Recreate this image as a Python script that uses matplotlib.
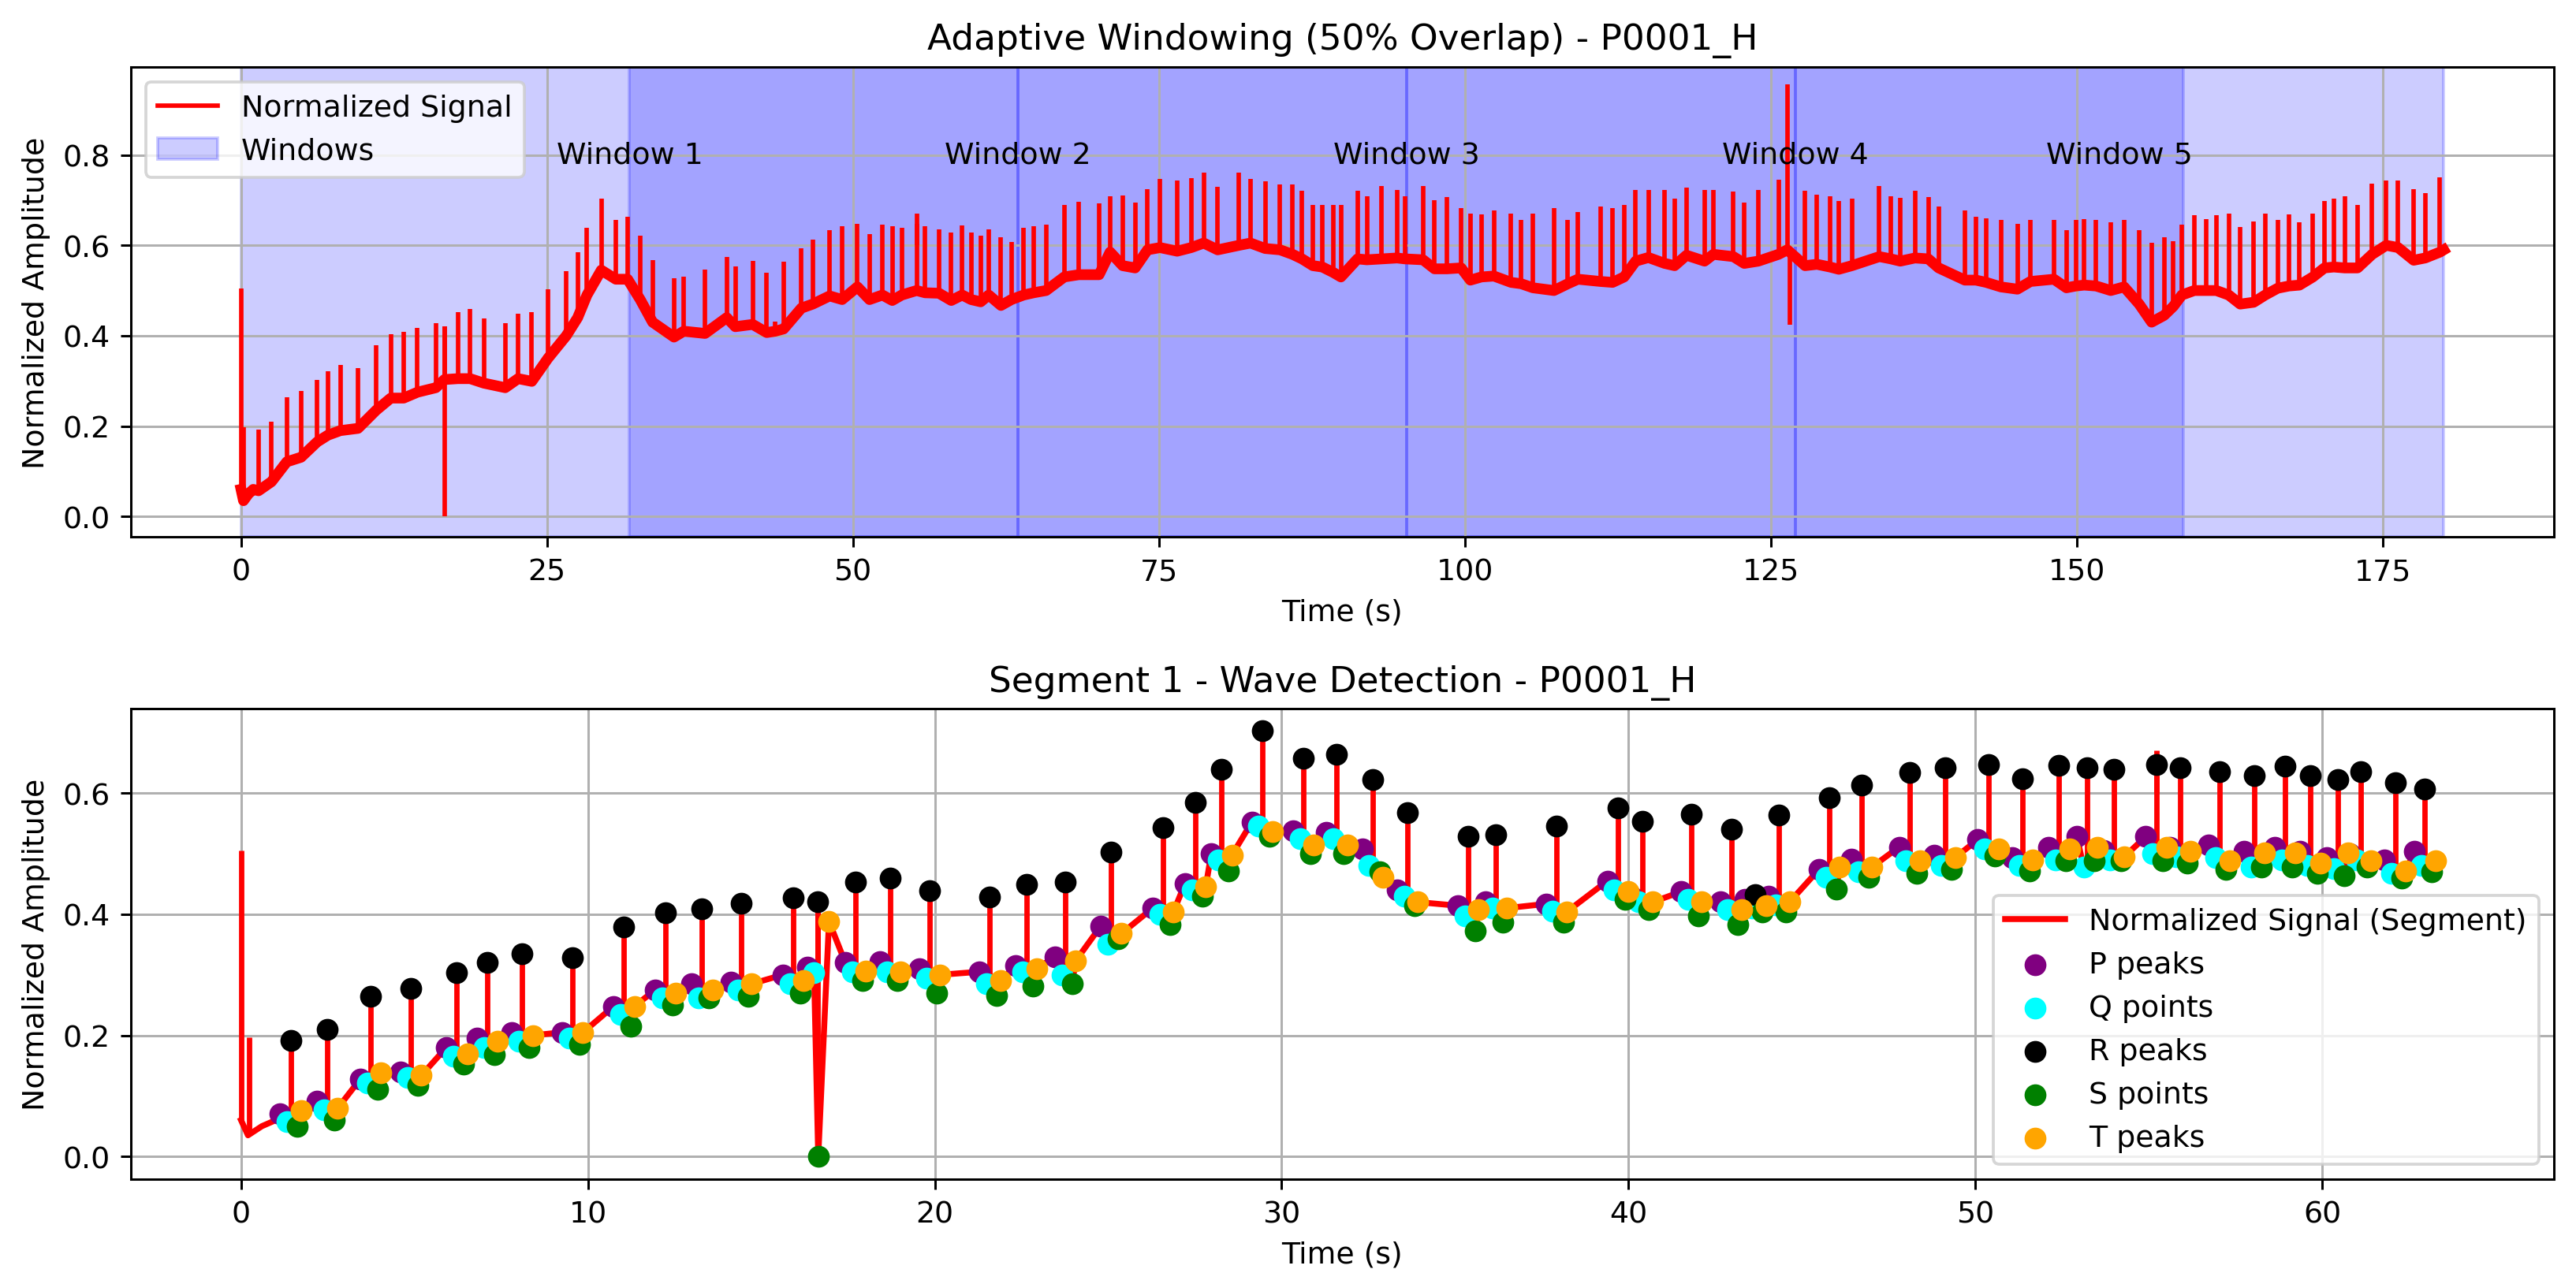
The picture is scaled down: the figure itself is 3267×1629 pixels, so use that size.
import numpy as np
import matplotlib.pyplot as plt
from matplotlib.lines import Line2D

# ---- Segment 1 (0 - 63.5 s): detected wave points ----
r_t = [1.43, 2.49, 3.74, 4.90, 6.22, 7.10, 8.11, 9.56, 11.04, 12.24,
       13.29, 14.42, 15.92, 16.62, 17.72, 18.72, 19.85, 21.59, 22.64, 23.76,
       25.08, 26.58, 27.51, 28.27, 29.44, 30.63, 31.59, 32.62, 33.63, 35.38,
       36.18, 37.92, 39.69, 40.39, 41.81, 42.96, 43.66, 44.34, 45.79, 46.72,
       48.10, 49.12, 50.37, 51.36, 52.41, 53.22, 53.99, 55.21, 55.90, 57.03,
       58.04, 58.93, 59.66, 60.44, 61.10, 62.10, 62.96]
r_amp = [.192, .210, .264, .277, .303, .321, .335, .328, .379, .403,
         .409, .418, .427, .421, .453, .460, .439, .428, .449, .453,
         .502, .543, .585, .639, .703, .657, .664, .622, .568, .528,
         .531, .546, .575, .554, .565, .540, .432, .564, .593, .613,
         .634, .642, .647, .624, .646, .642, .639, .647, .642, .635,
         .629, .644, .629, .622, .635, .617, .607]

p_t = [1.13, 2.19, 3.44, 4.60, 5.92, 6.80, 7.81, 9.26, 10.74, 11.94,
       12.99, 14.12, 15.62, 16.32, 17.42, 18.42, 19.55, 21.29, 22.34, 23.46,
       24.78, 26.28, 27.21, 27.97, 29.14, 30.33, 31.29, 32.32, 33.33, 35.08,
       35.88, 37.62, 39.39, 40.09, 41.51, 42.66, 43.36, 44.04, 45.49, 46.42,
       47.80, 48.82, 50.07, 51.06, 52.11, 52.92, 53.69, 54.91, 55.60, 56.73,
       57.74, 58.63, 59.36, 60.14, 60.80, 61.80, 62.66]
p_amp = [.070, .091, .128, .140, .180, .195, .205, .205, .248, .275,
         .285, .288, .300, .313, .320, .322, .310, .305, .315, .330,
         .380, .410, .450, .500, .552, .538, .535, .508, .440, .414,
         .420, .417, .455, .430, .437, .420, .425, .430, .474, .491,
         .511, .498, .523, .494, .511, .529, .505, .528, .510, .514,
         .504, .511, .504, .494, .500, .490, .504]

q_t = [1.33, 2.39, 3.64, 4.80, 6.12, 7.00, 8.01, 9.46, 10.94, 12.14,
       13.19, 14.32, 15.82, 16.52, 17.62, 18.62, 19.75, 21.49, 22.54, 23.66,
       24.98, 26.48, 27.41, 28.17, 29.34, 30.53, 31.49, 32.52, 33.53, 35.28,
       36.08, 37.82, 39.59, 40.29, 41.71, 42.86, 43.56, 44.24, 45.69, 46.62,
       48.00, 49.02, 50.27, 51.26, 52.31, 53.12, 53.89, 55.11, 55.80, 56.93,
       57.94, 58.83, 59.56, 60.34, 61.00, 62.00, 62.86]
q_amp = [.057, .077, .121, .131, .165, .180, .190, .195, .235, .262,
         .262, .275, .285, .303, .305, .305, .295, .285, .305, .299,
         .350, .400, .440, .490, .545, .525, .525, .480, .430, .397,
         .410, .405, .440, .420, .425, .407, .410, .415, .461, .470,
         .488, .480, .508, .480, .490, .478, .490, .500, .495, .494,
         .478, .490, .480, .475, .490, .467, .480]

s_t = [1.63, 2.69, 3.94, 5.10, 6.42, 7.30, 8.31, 9.76, 11.24, 12.44,
       13.49, 14.62, 16.12, 16.64, 17.92, 18.92, 20.05, 21.79, 22.84, 23.96,
       25.28, 26.78, 27.71, 28.47, 29.64, 30.83, 31.79, 32.82, 33.83, 35.58,
       36.38, 38.12, 39.89, 40.59, 42.01, 43.16, 43.86, 44.54, 45.99, 46.92,
       48.30, 49.32, 50.57, 51.56, 52.61, 53.42, 54.19, 55.41, 56.10, 57.23,
       58.24, 59.13, 59.86, 60.64, 61.30, 62.30, 63.16]
s_amp = [.050, .060, .111, .118, .152, .168, .180, .185, .215, .250,
         .262, .265, .270, .000, .290, .290, .270, .266, .282, .285,
         .360, .383, .430, .471, .528, .500, .500, .470, .414, .373,
         .387, .387, .424, .407, .397, .383, .404, .404, .442, .461,
         .468, .474, .496, .471, .488, .488, .488, .488, .484, .474,
         .478, .478, .467, .464, .478, .460, .470]

tw_t = [1.73, 2.79, 4.04, 5.20, 6.52, 7.40, 8.41, 9.86, 11.34, 12.54,
        13.59, 14.72, 16.22, 16.95, 18.02, 19.02, 20.15, 21.89, 22.94, 24.06,
        25.38, 26.88, 27.81, 28.57, 29.74, 30.93, 31.89, 32.92, 33.93, 35.68,
        36.48, 38.22, 39.99, 40.69, 42.11, 43.26, 43.96, 44.64, 46.09, 47.02,
        48.40, 49.42, 50.67, 51.66, 52.71, 53.52, 54.29, 55.51, 56.20, 57.33,
        58.34, 59.23, 59.96, 60.74, 61.40, 62.40, 63.26]
tw_amp = [.076, .080, .138, .134, .170, .190, .200, .205, .248, .270,
          .275, .285, .290, .388, .306, .305, .300, .290, .310, .323,
          .368, .404, .445, .498, .536, .514, .514, .461, .420, .407,
          .410, .404, .437, .420, .420, .407, .414, .420, .478, .478,
          .488, .494, .508, .490, .508, .511, .495, .511, .504, .488,
          .501, .501, .484, .501, .488, .471, .488]

# start of the recording before the first beat
lead_t = [0.0, 0.2, 0.6, 1.0]
lead_amp = [0.06, 0.035, 0.05, 0.06]

# ---- rest of the recording (63.5 - 180 s): R peaks and baseline under them ----
rest_r_t = [63.95, 64.77, 65.79, 67.27, 68.47, 70.12, 71.02, 72.04, 73.06, 74.08,
            75.10, 76.50, 77.65, 78.67, 79.81, 81.55, 82.49, 83.69, 84.91, 85.93,
            86.70, 87.59, 88.36, 89.25, 89.88, 91.24, 92.00, 93.20, 94.47, 95.11,
            96.59, 97.53, 98.55, 99.70, 100.46, 101.36, 102.38, 103.79, 104.61, 105.58,
            107.29, 108.43, 109.25, 111.11, 112.08, 113.02, 113.97, 115.01, 116.34, 117.15,
            118.12, 119.60, 120.32, 121.95, 122.84, 123.99, 125.64, 126.36, 127.81, 128.78,
            129.85, 130.57, 131.64, 133.88, 134.82, 135.59, 136.79, 137.88, 138.73, 140.87,
            141.77, 142.61, 143.81, 145.16, 146.23, 148.15, 149.17, 149.93, 150.62, 151.59,
            152.79, 153.88, 155.11, 156.13, 157.15, 157.91, 158.60, 159.62, 160.56, 161.41,
            162.43, 163.37, 164.47, 165.41, 166.43, 167.35, 168.21, 169.31, 170.25, 171.02,
            171.91, 172.96, 174.15, 175.30, 176.27, 177.55, 178.49, 179.69]
rest_r_amp = [.639, .642, .645, .689, .696, .692, .709, .710, .695, .725,
              .747, .743, .749, .760, .729, .761, .747, .741, .735, .734,
              .721, .689, .690, .689, .689, .721, .709, .732, .722, .709,
              .732, .700, .706, .683, .671, .668, .677, .671, .657, .670,
              .683, .657, .674, .686, .683, .689, .722, .722, .722, .703,
              .728, .722, .722, .719, .695, .722, .745, .956, .721, .712,
              .709, .698, .703, .732, .709, .705, .721, .706, .686, .677,
              .663, .660, .657, .648, .657, .657, .634, .657, .658, .657,
              .651, .657, .634, .606, .617, .610, .645, .666, .658, .666,
              .670, .640, .652, .670, .657, .668, .651, .671, .698, .703,
              .709, .689, .737, .743, .743, .724, .715, .750]
rest_base = [.490, .495, .500, .530, .535, .535, .585, .555, .550, .590,
             .595, .587, .595, .605, .590, .600, .605, .593, .590, .580,
             .570, .555, .552, .540, .530, .570, .568, .570, .572, .570,
             .568, .548, .548, .550, .523, .530, .532, .518, .515, .506,
             .500, .515, .525, .520, .518, .530, .565, .573, .560, .555,
             .578, .565, .580, .575, .560, .565, .580, .590, .555, .558,
             .552, .547, .555, .575, .570, .565, .572, .570, .550, .523,
             .523, .518, .508, .503, .520, .525, .506, .510, .512, .510,
             .500, .508, .470, .430, .445, .465, .490, .500, .500, .500,
             .490, .470, .474, .490, .505, .510, .512, .530, .550, .552,
             .550, .550, .580, .600, .595, .567, .572, .585]
tail_t = [180.0]
tail_amp = [0.59]

# artefact spikes (time, low end, high end)
art_t = np.array([0.0, 0.23, 16.62, 55.21, 126.6])
art_lo = np.array([0.06, 0.04, 0.0, 0.60, 0.425])
art_hi = np.array([0.505, 0.197, 0.42, 0.671, 0.59])

# adaptive windows, 50% overlap
win_start = [0.0, 31.75, 63.5, 95.25, 127.0]
win_end = [63.5, 95.25, 127.0, 158.75, 180.0]

fig, (ax1, ax2) = plt.subplots(2, 1, figsize=(12.0, 5.9853), dpi=272.333)
fig.subplots_adjust(left=0.0508, right=0.9911, top=0.9474, bottom=0.0818, hspace=0.366)

# ---- top: whole recording with windows ----
line_t = np.concatenate([lead_t, r_t, rest_r_t, tail_t])
line_amp = np.concatenate([lead_amp, q_amp, rest_base, tail_amp])
ax1.plot(line_t, line_amp, color="red", lw=3.6)
ax1.vlines(np.concatenate([r_t, rest_r_t]), np.concatenate([q_amp, rest_base]),
           np.concatenate([r_amp, rest_r_amp]), color="red", lw=1.5)
ax1.vlines(art_t, art_lo, art_hi, color="red", lw=1.5)

spans = []
for i, (s, e) in enumerate(zip(win_start, win_end)):
    spans.append(ax1.axvspan(s, e, color="blue", alpha=0.2))
    ax1.text((s + e) / 2, 0.8, f"Window {i + 1}", ha="center", va="center", fontsize=10)

ax1.legend([Line2D([0], [0], color="red", lw=1.5), spans[0]],
           ["Normalized Signal", "Windows"], loc="upper left")
ax1.set_title("Adaptive Windowing (50% Overlap) - P0001_H", fontsize=12)
ax1.set_xlabel("Time (s)")
ax1.set_ylabel("Normalized Amplitude")
ax1.set_xlim(-9, 189)
ax1.set_ylim(-0.045, 0.995)
ax1.set_xticks(np.arange(0, 176, 25))
ax1.set_yticks([0.0, 0.2, 0.4, 0.6, 0.8])
ax1.grid(True)

# ---- bottom: segment 1 with wave detection ----
wave_t = np.concatenate([lead_t, p_t, q_t, s_t, tw_t])
wave_amp = np.concatenate([lead_amp, p_amp, q_amp, s_amp, tw_amp])
order = np.argsort(wave_t, kind="stable")
ax2.plot(wave_t[order], wave_amp[order], color="red", lw=2.0, label="Normalized Signal (Segment)")
ax2.vlines(r_t, q_amp, r_amp, color="red", lw=1.8)
in_seg = art_t <= 63.5
ax2.vlines(art_t[in_seg], art_lo[in_seg], art_hi[in_seg], color="red", lw=1.8)

ax2.scatter(p_t, p_amp, color="purple", s=40, label="P peaks", zorder=3)
ax2.scatter(q_t, q_amp, color="cyan", s=40, label="Q points", zorder=3)
ax2.scatter(r_t, r_amp, color="black", s=40, label="R peaks", zorder=3)
ax2.scatter(s_t, s_amp, color="green", s=40, label="S points", zorder=3)
ax2.scatter(tw_t, tw_amp, color="orange", s=40, label="T peaks", zorder=3)

ax2.legend(loc="lower right")
ax2.set_title("Segment 1 - Wave Detection - P0001_H", fontsize=12)
ax2.set_xlabel("Time (s)")
ax2.set_ylabel("Normalized Amplitude")
ax2.set_xlim(-3.175, 66.675)
ax2.set_ylim(-0.037, 0.739)
ax2.set_xticks(np.arange(0, 61, 10))
ax2.set_yticks([0.0, 0.2, 0.4, 0.6])
ax2.grid(True)

fig.savefig("out.png", dpi=272.333)
